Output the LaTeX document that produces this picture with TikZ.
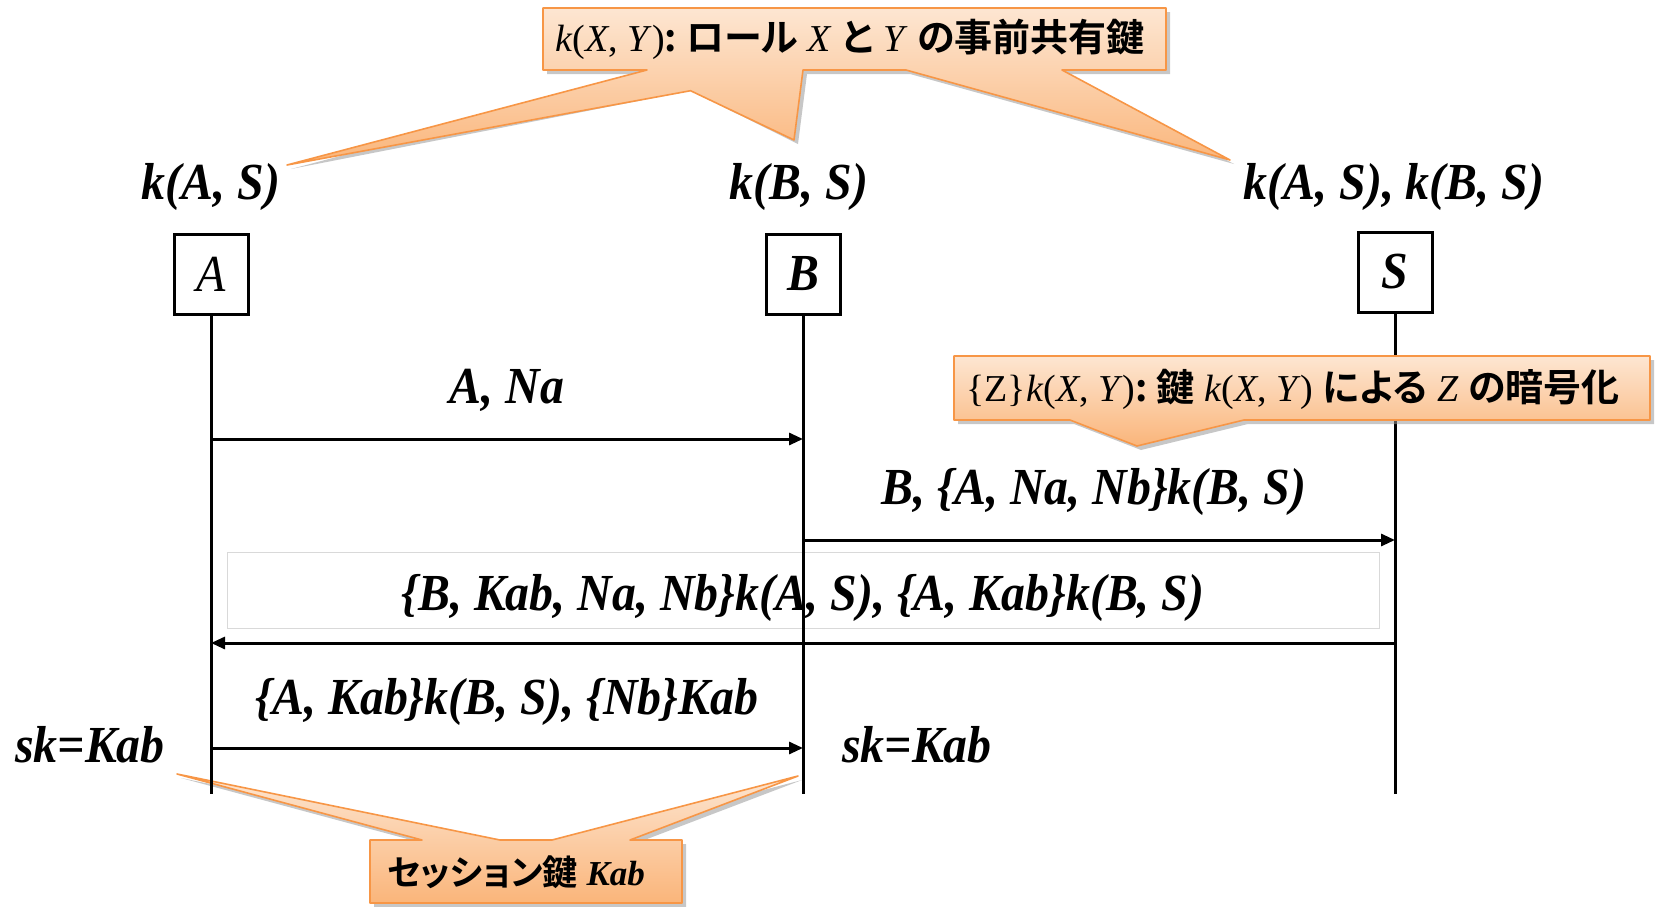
\documentclass[tikz,border=0pt]{standalone}
\usepackage{fontspec}
\setmainfont{Liberation Serif}
\newfontfamily\lab[FakeStretch=0.92]{Liberation Serif}
\newfontfamily\jp[BoldFont={Noto Sans CJK JP Bold},RawFeature=+palt]{Noto Sans CJK JP}
\newcommand{\J}[1]{{\jp\bfseries #1}}
\usetikzlibrary{arrows.meta}
\definecolor{cTop}{HTML}{FDE6D2}
\definecolor{cBot}{HTML}{FAB57A}
\definecolor{cLine}{HTML}{F79646}
\begin{document}
\begin{tikzpicture}[x=0.5pt,y=-0.5pt,
  lbl/.style={font=\lab\bfseries\itshape\fontsize{26}{30}\selectfont, inner sep=0pt, anchor=base},
  role/.style={draw, fill=white, line width=1.5pt, minimum width=37pt, minimum height=40pt, inner sep=0pt, font=\lab\bfseries\itshape\fontsize{26}{30}\selectfont},
  life/.style={line width=1.5pt},
  msg/.style={line width=1.5pt, -{Triangle[length=7pt,width=6pt]}},
  note/.style={top color=cTop, bottom color=cBot, draw=cLine, line width=0.8pt, line join=round},
  noteshadow/.style={fill=black!40, opacity=0.55},
  ctext/.style={font=\fontsize{19}{22}\selectfont, inner sep=0pt, anchor=base},
  msgbox/.style={draw=black!15, fill=white, line width=0.5pt}
]
\useasboundingbox (0,0) rectangle (1656,906);

% roles
\node[role] (A) at (211,274) {\mdseries A};
\node[role] (B) at (803,274) {B};
\node[role] (S) at (1395,272) {S};
\coordinate (Aend) at (211,794);
\coordinate (Bend) at (803,794);
\coordinate (Send) at (1395,794);

% message endpoints
\coordinate (m1a) at (211,439); \coordinate (m1b) at (803,439);
\coordinate (m2b) at (803,540); \coordinate (m2s) at (1395,540);
\coordinate (m3s) at (1395,643); \coordinate (m3a) at (211,643);
\coordinate (m4a) at (211,748); \coordinate (m4b) at (803,748);

% label box of message 3
\path[msgbox] (227,552) rectangle (1379,628);

% bottom callout
\def\botc{(370,840) -- (422,840) -- (177,774) -- (500,840) -- (552,840) -- (798,776) -- (630,840) -- (682,840) -- (682,903) -- (370,903) -- cycle}
\fill[noteshadow, shift={(4,4)}] \botc;
\path[note] \botc;

% top callout
\coordinate (p1) at (647,70); \coordinate (p2) at (794,140);
\coordinate (p3) at (287,165); \coordinate (p4) at (803,70);
\coordinate (P) at (intersection of p1--p2 and p3--p4);
\def\topc{(543,8) -- (1166,8) -- (1166,70) -- (1062,70) -- (1230,160) -- (906,70) -- (803,70) -- (794,140) -- (P) -- (287,165) -- (647,70) -- (543,70) -- cycle}
\fill[noteshadow, shift={(4,4)}] \topc;
\path[note] \topc;

% lifelines
\draw[life] (A.south) -- (Aend);
\draw[life] (B.south) -- (Bend);
\draw[life] (S.south) -- (Send);

% middle callout
\def\midc{(954,356) -- (1650,356) -- (1650,420) -- (1244,420) -- (1137,446) -- (1070,420) -- (954,420) -- cycle}
\fill[noteshadow, shift={(4,4)}] \midc;
\path[note] \midc;

% messages
\draw[msg] (m1a) -- (m1b);
\draw[msg] (m2b) -- (m2s);
\draw[msg] (m3s) -- (m3a);
\draw[msg] (m4a) -- (m4b);

% labels
\node[lbl] (kA) at (211,199) {k(A, S)};
\node[lbl] (kB) at (799,199) {k(B, S)};
\node[lbl] (kS) at (1394,199) {k(A, S), k(B, S)};
\node[lbl] (l1) at (507,403) {A, Na};
\node[lbl] (l2) at (1094,504) {B, \{A, Na, Nb\}k(B, S)};
\node[lbl] (l3) at (803,610) {\{B, Kab, Na, Nb\}k(A, S), \{A, Kab\}k(B, S)};
\node[lbl] (l4) at (507,714) {\{A, Kab\}k(B, S), \{Nb\}Kab};
\node[lbl] (sk1) at (90,762) {sk=Kab};
\node[lbl] (sk2) at (917,762) {sk=Kab};

% callout texts
\node[ctext] (ct1) at (850,51) {\textit{k}(\textit{X}, \textit{Y})\J{: ロール} \textit{X} \J{と} \textit{Y} \J{の事前共有鍵}};
\node[ctext] (ct2) at (1293,401) {\{Z\}\textit{k}(\textit{X}, \textit{Y})\J{: 鍵} \textit{k}(\textit{X}, \textit{Y}) \J{による} \textit{Z} \J{の暗号化}};
\node[ctext, font=\fontsize{17.5}{21}\selectfont] (ct3) at (516,885) {\J{セッション鍵} \textbf{\textit{Kab}}};
\end{tikzpicture}
\end{document}
